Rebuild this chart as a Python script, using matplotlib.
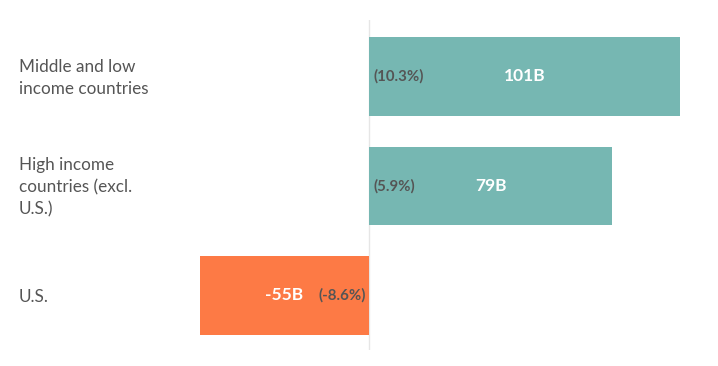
import matplotlib
matplotlib.use("Agg")
import matplotlib.pyplot as plt

categories = ["Middle and low\nincome countries", "High income\ncountries (excl.\nU.S.)", "U.S."]
values = [101, 79, -55]
value_labels = ["101B", "79B", "-55B"]
pct_labels = ["(10.3%)", "(5.9%)", "(-8.6%)"]
colors = ["#76B7B2", "#76B7B2", "#FD7A45"]

plt.rcParams['font.family'] = ['Lato', 'DejaVu Sans']

W, H = 718, 366
fig = plt.figure(figsize=(W/100, H/100), dpi=100)
ax_l, ax_r, ax_t, ax_b = 190, 700, 20, 350
ax = fig.add_axes([ax_l/W, 1-ax_b/H, (ax_r-ax_l)/W, (ax_b-ax_t)/H])
zero_px, scale = 369, 3.08
ax.set_xlim((ax_l-zero_px)/scale, (ax_r-zero_px)/scale)
ypos = list(range(len(categories)))
ax.set_ylim(2.498, -0.516)

ax.axvline(0, color="#e6e6e6", lw=1, zorder=0)
ax.barh(ypos, values, height=0.72, color=colors, zorder=2)

for y, v, vl, pl in zip(ypos, values, value_labels, pct_labels):
    ax.text(v/2, y, vl, ha="center", va="center", color="white",
            fontsize=12.5, fontweight="bold", zorder=3)
    if v >= 0:
        ax.text(1.3, y, pl, ha="left", va="center", color="#555555",
                fontsize=10.8, fontweight="bold", zorder=3)
    else:
        ax.text(-1.0, y, pl, ha="right", va="center", color="#555555",
                fontsize=10.8, fontweight="bold", zorder=3)
    fig.text(19/W, 1-(78+109.5*y)/H, categories[y], ha="left", va="center",
             color="#555555", fontsize=12.3, linespacing=1.45)

for s in ax.spines.values():
    s.set_visible(False)
ax.set_xticks([])
ax.set_yticks([])

fig.savefig("out.png", dpi=100, facecolor="white")
